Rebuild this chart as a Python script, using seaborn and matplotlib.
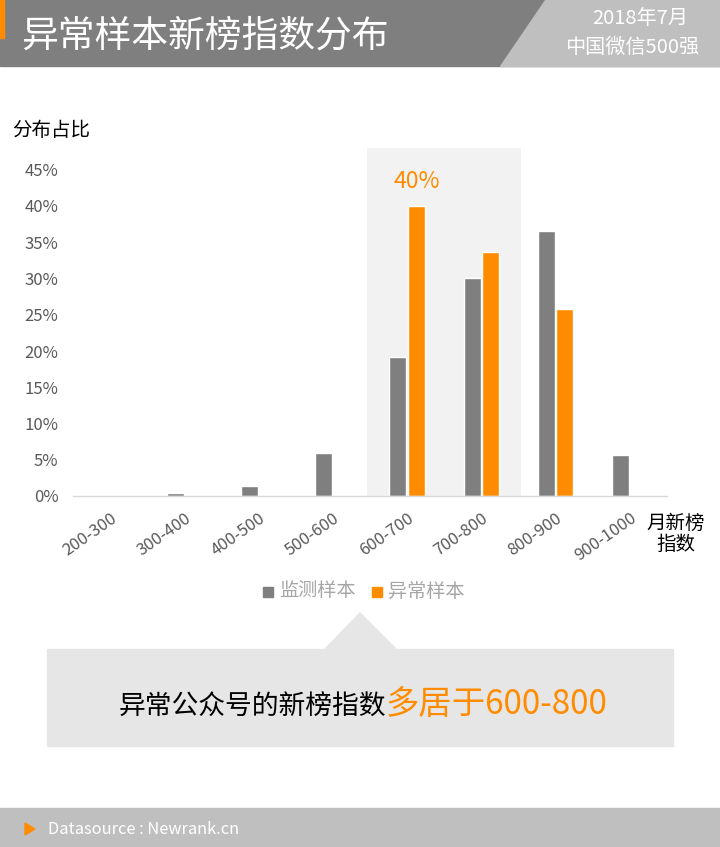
import pandas as pd
import seaborn as sns
import matplotlib.pyplot as plt
from matplotlib.patches import Polygon, Rectangle

# chart data
ranges = ['200-300', '300-400', '400-500', '500-600', '600-700', '700-800', '800-900', '900-1000']
monitor = [0.0, 0.004, 0.014, 0.059, 0.192, 0.300, 0.365, 0.057]
abnormal = [0.0, 0.0, 0.0, 0.0, 0.400, 0.336, 0.258, 0.0]
series_names = ['监测样本', '异常样本']
yticks = [0, 0.05, 0.10, 0.15, 0.20, 0.25, 0.30, 0.35, 0.40, 0.45]

GRAY = '#7f7f7f'
ORANGE = '#ff8c00'

sns.set_theme(style='white')
plt.rcParams['font.family'] = ['Noto Sans CJK SC', 'DejaVu Sans']

df = pd.DataFrame({
    'range': ranges * 2,
    'value': monitor + abnormal,
    'series': [series_names[0]] * len(ranges) + [series_names[1]] * len(ranges),
})

fig = plt.figure(figsize=(7.2, 8.47), dpi=100)
W, H = 720, 847

def fx(x):
    return x / W

def fy(y):
    return 1 - y / H

# header band
fig.patches.append(Rectangle((0, fy(66)), 1, 66 / H, transform=fig.transFigure,
                             color='#7f7f7f', zorder=0))
fig.patches.append(Polygon([(fx(545), fy(0)), (1, fy(0)), (1, fy(66)), (fx(500), fy(66))],
                           closed=True, transform=fig.transFigure, color='#bfbfbf', zorder=1))
fig.patches.append(Rectangle((0, fy(38)), 4 / W, 38 / H, transform=fig.transFigure,
                             color=ORANGE, zorder=2))
fig.text(fx(21), fy(36), '异常样本新榜指数分布', color='white', fontsize=26.5,
         fontweight='light', va='center', ha='left')
fig.text(fx(640), fy(19), '2018年7月', color='white', fontsize=14.5,
         fontweight='light', va='center', ha='center')
fig.text(fx(632), fy(47), '中国微信500强', color='white', fontsize=14.5,
         fontweight='light', va='center', ha='center')

# main axes
ax = fig.add_axes([fx(73), fy(496), fx(667) - fx(73), (496 - 148) / H])
ax.axvspan(3.46, 5.54, color='#f2f2f2', zorder=0, lw=0)
sns.barplot(data=df, x='range', y='value', hue='series', ax=ax,
            palette=[GRAY, ORANGE], width=0.5, gap=0.08, legend=False,
            saturation=1, zorder=2)
ax.set_xlim(-0.5, len(ranges) - 0.5)
ax.set_ylim(0, 0.48)
ax.set_yticks(yticks)
ax.set_yticklabels([f'{int(round(t * 100))}%' for t in yticks], color='#595959',
                   fontsize=12, fontweight='light')
ax.set_xticks(range(len(ranges)))
ax.set_xticklabels(ranges, rotation=35, ha='right', rotation_mode='anchor',
                   color='#595959', fontsize=12, fontweight='light')
ax.tick_params(axis='y', length=0, pad=10.5)
ax.tick_params(axis='x', length=0, pad=10)
ax.set_xlabel('')
ax.set_ylabel('')
for s in ['top', 'right', 'left']:
    ax.spines[s].set_visible(False)
ax.spines['bottom'].set_color('#d9d9d9')
ax.spines['bottom'].set_linewidth(1)
ax.set_facecolor('none')

# 40% label over the top orange bar
top_i = abnormal.index(max(abnormal))
ax.annotate(f'{int(round(max(abnormal) * 100))}%', xy=(top_i + 0.125, max(abnormal)),
            xytext=(0, 18), textcoords='offset points', ha='center', va='center',
            color=ORANGE, fontsize=16.5, fontweight='light')

fig.text(fx(12), fy(130), '分布占比', color='black', fontsize=14, va='center', ha='left')
fig.text(fx(676), fy(534), '月新榜\n指数', color='black', fontsize=14, va='center',
         ha='center', linespacing=1.0)

# legend
fig.patches.append(Rectangle((fx(263), fy(597)), 10 / W, 10 / H, transform=fig.transFigure,
                             color=GRAY))
fig.text(fx(279), fy(591), series_names[0], color='#a6a6a6', fontsize=13.8,
         fontweight='light', va='center', ha='left')
fig.patches.append(Rectangle((fx(372), fy(597)), 10 / W, 10 / H, transform=fig.transFigure,
                             color=ORANGE))
fig.text(fx(388), fy(591), series_names[1], color='#a6a6a6', fontsize=13.8,
         fontweight='light', va='center', ha='left')

# callout box
fig.patches.append(Polygon([(fx(325), fy(649)), (fx(360), fy(613)), (fx(396), fy(649))],
                           closed=True, transform=fig.transFigure, color='#e6e6e6'))
fig.patches.append(Rectangle((fx(47), fy(746)), (673 - 47) / W, (746 - 649) / H,
                             transform=fig.transFigure, color='#e6e6e6'))
fig.text(fx(386), fy(706), '异常公众号的新榜指数', color='black', fontsize=19.3,
         fontweight='light', va='center', ha='right')
fig.text(fx(386), fy(704), '多居于600-800', color=ORANGE, fontsize=24,
         fontweight='light', va='center', ha='left')

# footer
fig.patches.append(Rectangle((0, 0), 1, (847 - 808) / H, transform=fig.transFigure,
                             color='#bfbfbf'))
fig.patches.append(Polygon([(fx(25), fy(823)), (fx(35), fy(829)), (fx(25), fy(835))],
                           closed=True, transform=fig.transFigure, color=ORANGE))
fig.text(fx(48), fy(829), 'Datasource : Newrank.cn', color='white', fontsize=11.8,
         va='center', ha='left')

fig.savefig('out.png', dpi=100, facecolor='white')
